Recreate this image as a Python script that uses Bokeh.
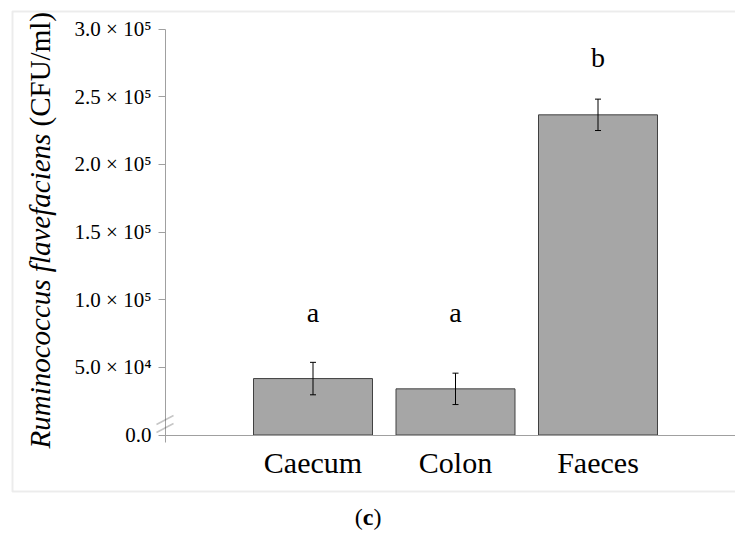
import math
from bokeh.plotting import figure
from bokeh.models import (Range1d, FixedTicker, ColumnDataSource, Whisker, TeeHead,
                          Label, BoxAnnotation, PolyAnnotation)
from bokeh.core.properties import value
from bokeh.embed import file_html
from bokeh.resources import INLINE

# ---- data ----
categories = ["Caecum", "Colon", "Faeces"]
means = [41700, 34100, 236600]
errors = [12000, 11600, 11600]
letters = ["a", "a", "b"]
letter_y = [90500, 90500, 279000]
yticks = [0, 50000, 100000, 150000, 200000, 250000, 300000]
ytick_labels = ["0.0", "5.0 × 10⁴", "1.0 × 10⁵", "1.5 × 10⁵", "2.0 × 10⁵", "2.5 × 10⁵", "3.0 × 10⁵"]
ylabel_italic = "Ruminococcus flavefaciens"
ylabel_unit = "(CFU/ml)"
panel_tag = "c"

FONT = "Liberation Serif"
AXIS_GRAY = "#a0a0a0"

x = list(range(len(categories)))
src = ColumnDataSource(dict(
    x=x, top=means,
    upper=[m + e for m, e in zip(means, errors)],
    lower=[m - e for m, e in zip(means, errors)],
    letters=letters, ly=letter_y,
))

X0, X1 = -2.1930, 2.9649         # full canvas in x data units
Y0, Y1 = -73529, 321091          # full canvas in y data units
AX_X = -1.0351                   # where the value axis stands

p = figure(width=735, height=534, output_backend="svg", toolbar_location=None,
           x_range=Range1d(X0, X1), y_range=Range1d(Y0, Y1),
           min_border_left=0, min_border_right=0, min_border_top=0, min_border_bottom=0)
p.outline_line_color = None
p.xgrid.grid_line_color = None
p.ygrid.grid_line_color = None
p.background_fill_color = "white"
p.border_fill_color = "white"

p.vbar(x="x", top="top", width=0.835, source=src,
       fill_color="#a6a6a6", line_color="#404040", line_width=1)

w = Whisker(base="x", upper="upper", lower="lower", source=src, level="annotation",
            line_color="black", line_width=1,
            upper_head=TeeHead(size=6, line_color="black", line_width=1),
            lower_head=TeeHead(size=6, line_color="black", line_width=1))
p.add_layout(w)

p.text(x="x", y="ly", text="letters", source=src, text_font=value(FONT),
       text_font_size="28px", text_align="center", text_baseline="alphabetic",
       text_color="black")

# x axis
xa = p.xaxis[0]
xa.fixed_location = 0
xa.bounds = (AX_X, X1)
xa.ticker = FixedTicker(ticks=x)
xa.major_label_overrides = {i: c for i, c in zip(x, categories)}
xa.major_tick_out = 0
xa.major_tick_in = 0
xa.minor_tick_out = 0
xa.minor_tick_in = 0
xa.axis_line_color = AXIS_GRAY
xa.major_label_text_font = FONT
xa.major_label_text_font_size = "30px"
xa.major_label_text_color = "black"
xa.major_label_standoff = 11

# y axis
ya = p.yaxis[0]
ya.fixed_location = AX_X
ya.bounds = (-5500, 300000)
ya.ticker = FixedTicker(ticks=yticks)
ya.major_label_overrides = {t: l for t, l in zip(yticks, ytick_labels)}
ya.major_tick_out = 7
ya.major_tick_in = 0
ya.minor_tick_out = 0
ya.minor_tick_in = 0
ya.axis_line_color = AXIS_GRAY
ya.major_tick_line_color = AXIS_GRAY
ya.major_label_text_font = FONT
ya.major_label_text_font_size = "21px"
ya.major_label_text_color = "black"
ya.major_label_standoff = 7

# y axis title (italic species name + unit); screen units from the frame's bottom-left
p.add_layout(Label(x=39, y=86, x_units="screen", y_units="screen",
                   text=ylabel_italic, angle=math.pi / 2, text_font=FONT,
                   text_font_style="italic", text_font_size="29px",
                   text_align="left", text_baseline="alphabetic", text_color="black"))
p.add_layout(Label(x=39, y=408, x_units="screen", y_units="screen",
                   text=ylabel_unit, angle=math.pi / 2, text_font=FONT,
                   text_font_size="29px",
                   text_align="left", text_baseline="alphabetic", text_color="black"))

# axis break marks
for y0 in (102, 110):
    p.add_layout(PolyAnnotation(xs=[156, 173], ys=[y0, y0 + 9], xs_units="screen", ys_units="screen",
                                fill_alpha=0, line_color="#404040", line_width=1.5))

# outer gray frame
p.add_layout(BoxAnnotation(left=12, right=800, top=523, bottom=43,
                           left_units="screen", right_units="screen",
                           top_units="screen", bottom_units="screen",
                           fill_alpha=0, line_color="#c0c0c0", line_width=2))

# panel tag "(c)"
p.add_layout(Label(x=354.2, y=18, x_units="screen", y_units="screen", text="(",
                   text_font=FONT, text_font_size="24px", text_align="left",
                   text_baseline="alphabetic", text_color="black"))
p.add_layout(Label(x=362.2, y=18, x_units="screen", y_units="screen", text=panel_tag,
                   text_font=FONT, text_font_size="24px", text_font_style="bold",
                   text_align="left", text_baseline="alphabetic", text_color="black"))
p.add_layout(Label(x=372.9, y=18, x_units="screen", y_units="screen", text=")",
                   text_font=FONT, text_font_size="24px", text_align="left",
                   text_baseline="alphabetic", text_color="black"))

open("out.html", "w").write(file_html(p, INLINE))
